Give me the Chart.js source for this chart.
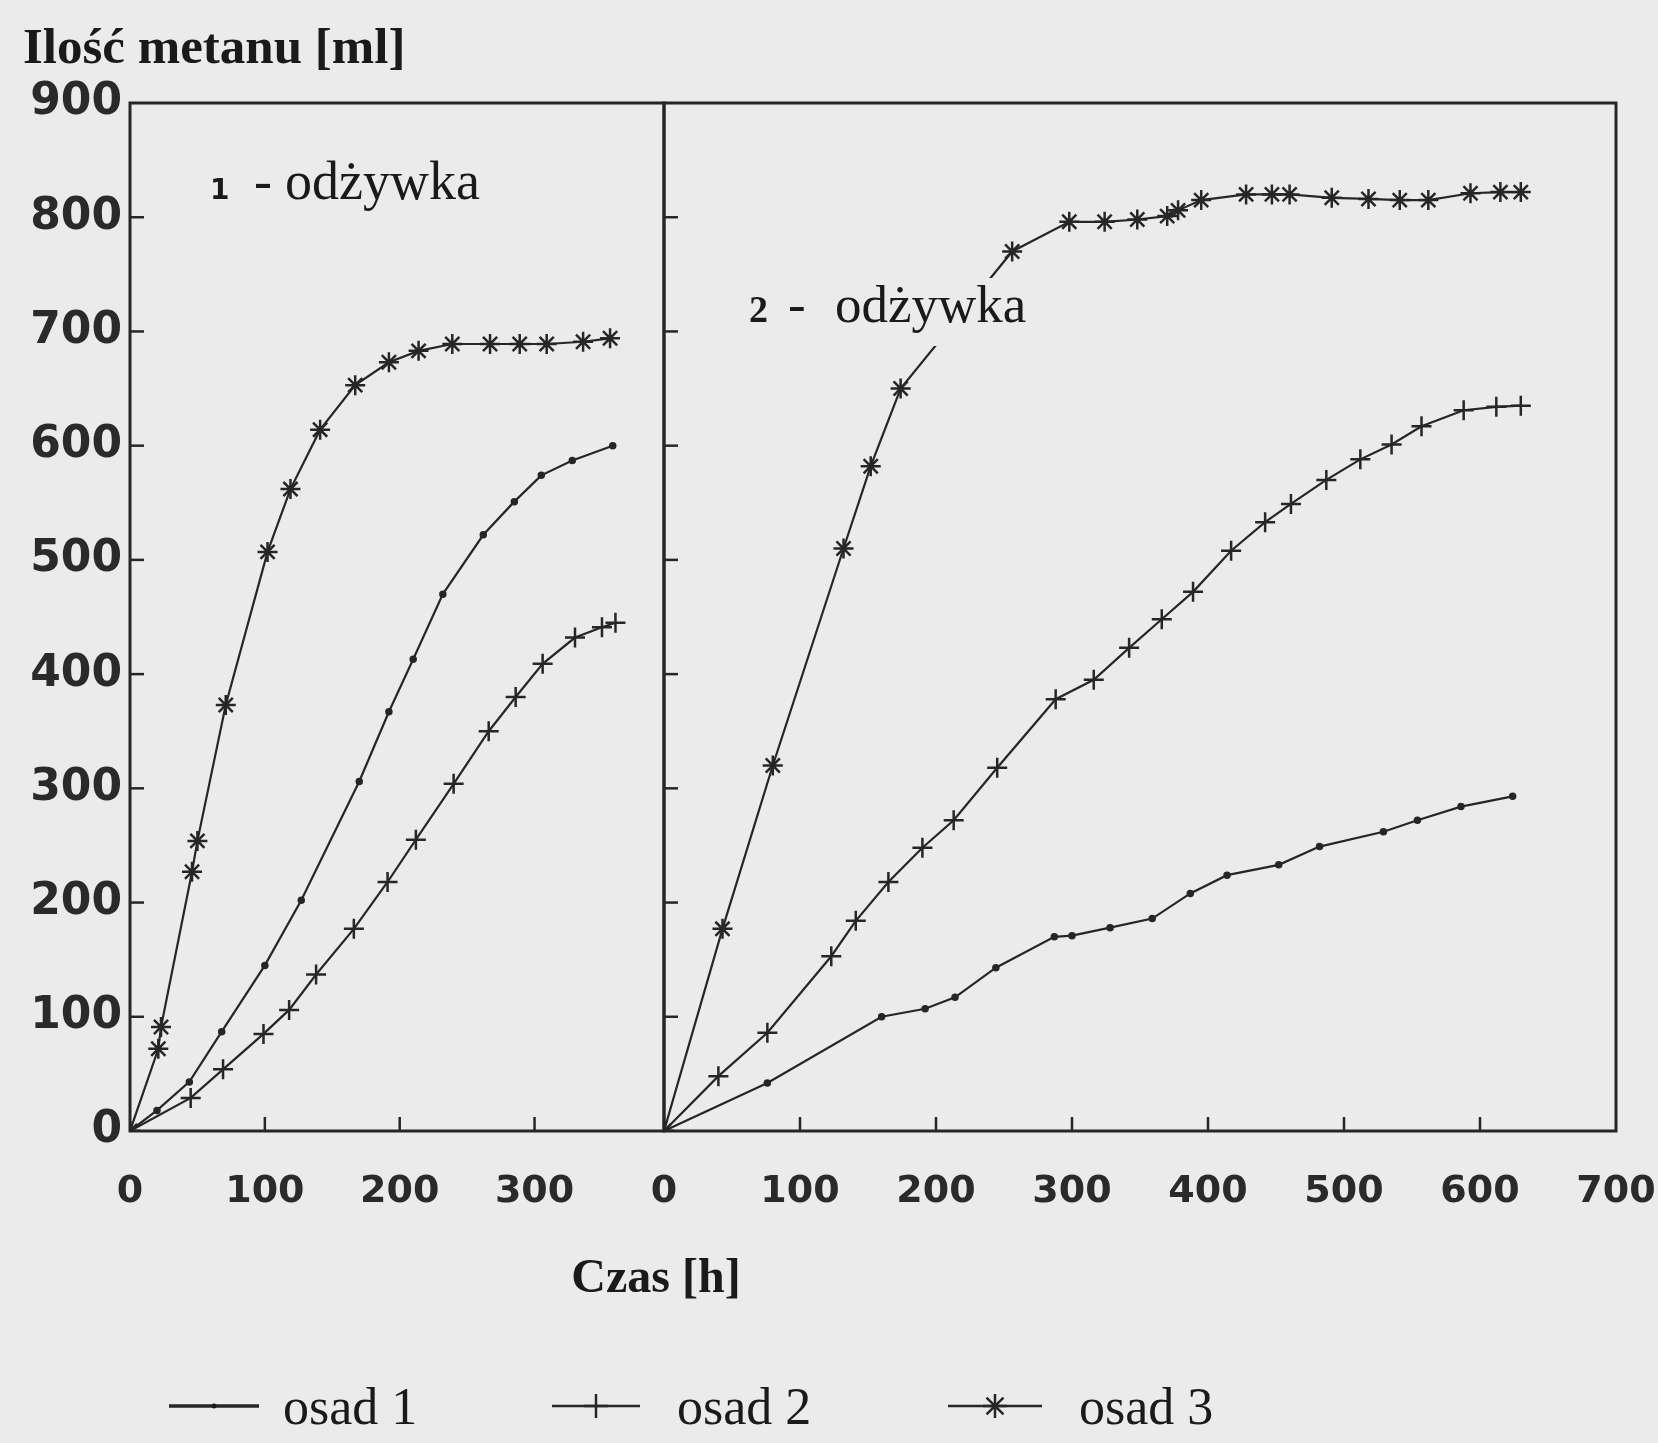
<!DOCTYPE html>
<html lang="pl">
<head>
<meta charset="utf-8">
<title>Ilość metanu</title>
<script src="https://cdn.jsdelivr.net/npm/chart.js@4.4.0/dist/chart.umd.min.js"></script>
<style>
  html, body { margin: 0; padding: 0; background: #ebebeb; }
  #wykres { position: relative; width: 1658px; height: 1443px; }
  #wykres canvas { position: absolute; left: 0; top: 0; }
</style>
</head>
<body>
<div id="wykres">
  <canvas id="panel1" width="1658" height="1443"></canvas>
  <canvas id="panel2" width="1658" height="1443"></canvas>
</div>
<script>
// dane: czas [h] i ilość metanu [ml]

// 1 - odżywka
const czas1Osad1 = [0, 20, 44, 68, 100, 127, 170, 192, 210, 232, 262, 285, 305, 328, 358];
const metan1Osad1 = [0, 18, 43, 87, 145, 202, 306, 367, 413, 470, 522, 551, 574, 587, 600];
const czas1Osad2 = [0, 45, 69, 99, 118, 138, 166, 191, 212, 240, 266, 286, 306, 330, 350, 360];
const metan1Osad2 = [0, 29, 54, 85, 106, 137, 177, 218, 255, 304, 350, 380, 409, 432, 441, 445];
const czas1Osad3 = [0, 21, 23, 46, 50, 71, 102, 119, 141, 167, 192, 214, 239, 267, 289, 309, 336, 356];
const metan1Osad3 = [0, 72, 91, 227, 254, 373, 507, 562, 614, 653, 673, 683, 689, 689, 689, 689, 691, 694];

// 2 - odżywka
const czas2Osad1 = [0, 76, 160, 192, 214, 244, 287, 300, 328, 359, 387, 414, 452, 482, 529, 554, 586, 624];
const metan2Osad1 = [0, 42, 100, 107, 117, 143, 170, 171, 178, 186, 208, 224, 233, 249, 262, 272, 284, 293];
const czas2Osad2 = [0, 40, 76, 123, 141, 165, 190, 213, 245, 288, 316, 342, 366, 389, 417, 442, 461, 487, 512, 535, 557, 588, 612, 630];
const metan2Osad2 = [0, 48, 86, 153, 184, 218, 248, 272, 318, 378, 395, 423, 448, 472, 508, 533, 549, 570, 588, 601, 617, 631, 634, 635];
const czas2Osad3 = [0, 43, 80, 132, 152, 174, 256, 298, 324, 348, 370, 378, 395, 428, 447, 460, 491, 518, 541, 562, 593, 615, 630];
const metan2Osad3 = [0, 177, 320, 510, 582, 650, 770, 796, 796, 798, 801, 806, 815, 820, 820, 820, 817, 816, 815, 815, 821, 822, 822];

const nazwySerii = ['osad 1', 'osad 2', 'osad 3'];
const znacznikiSerii = ['circle', 'cross', 'star'];
const etykietyY = [0, 100, 200, 300, 400, 500, 600, 700, 800, 900];
const etykietyX1 = [0, 100, 200, 300];
const etykietyX2 = [0, 100, 200, 300, 400, 500, 600, 700];
const tytulOsiY = 'Ilość metanu [ml]';
const tytulOsiX = 'Czas [h]';

const KOLOR = '#262626';

function seria(czas, metan, styl) {
  return {
    data: czas.map((x, i) => ({ x, y: metan[i] })),
    showLine: true,
    borderColor: KOLOR,
    borderWidth: 2.2,
    pointStyle: styl,
    pointRadius: styl === 'circle' ? 2.5 : 10,
    pointBorderWidth: 2.5,
    pointBorderColor: KOLOR,
    pointBackgroundColor: KOLOR,
    tension: 0
  };
}

function rysujZnacznik(ctx, styl, x, y, r) {
  ctx.beginPath();
  if (styl === 'circle') {
    ctx.arc(x, y, 2.5, 0, Math.PI * 2);
    ctx.fill();
    return;
  }
  ctx.moveTo(x - r, y); ctx.lineTo(x + r, y);
  ctx.moveTo(x, y - r); ctx.lineTo(x, y + r);
  if (styl === 'star') {
    const d = r * Math.SQRT1_2;
    ctx.moveTo(x - d, y - d); ctx.lineTo(x + d, y + d);
    ctx.moveTo(x - d, y + d); ctx.lineTo(x + d, y - d);
  }
  ctx.stroke();
}

// ramka panelu i krótkie kreski podziałki do środka
const ramka = {
  id: 'ramka',
  beforeDatasetsDraw(chart) {
    const { ctx, chartArea: a, scales } = chart;
    ctx.save();
    ctx.strokeStyle = KOLOR;
    ctx.lineWidth = 3;
    ctx.strokeRect(a.left, a.top, a.right - a.left, a.bottom - a.top);
    ctx.lineWidth = 2.5;
    scales.x.ticks.forEach(t => {
      if (t.value === 0 || t.value === scales.x.max) return;
      const x = scales.x.getPixelForValue(t.value);
      ctx.beginPath(); ctx.moveTo(x, a.bottom); ctx.lineTo(x, a.bottom - 14); ctx.stroke();
    });
    scales.y.ticks.forEach(t => {
      if (t.value === 0 || t.value === scales.y.max) return;
      const y = scales.y.getPixelForValue(t.value);
      ctx.beginPath(); ctx.moveTo(a.left, y); ctx.lineTo(a.left + 14, y); ctx.stroke();
    });
    ctx.restore();
  }
};

// tytuły osi, legenda i opis panelu 1
const opisy1 = {
  id: 'opisy1',
  afterDraw(chart) {
    const ctx = chart.ctx;
    ctx.save();
    ctx.fillStyle = '#1a1a1a';
    ctx.textBaseline = 'alphabetic';
    ctx.font = 'bold 51px "Liberation Serif"';
    ctx.fillText(tytulOsiY, 23, 63);
    ctx.textAlign = 'center';
    ctx.font = 'bold 48px "Liberation Serif"';
    ctx.fillText(tytulOsiX, 656, 1292);

    ctx.textAlign = 'left';
    ctx.font = 'bold 28px "DejaVu Sans"';
    ctx.fillText('1', 210, 199);
    ctx.font = '54px "Liberation Serif"';
    ctx.fillText('-', 254, 199);
    ctx.fillText('odżywka', 285, 199);

    // legenda
    const pozycje = [[169, 259, 283], [552, 640, 677], [948, 1042, 1079]];
    ctx.strokeStyle = KOLOR;
    ctx.font = '52px "Liberation Serif"';
    nazwySerii.forEach((nazwa, i) => {
      const [x1, x2, xt] = pozycje[i];
      const y = 1406;
      ctx.lineWidth = i === 0 ? 3.5 : 2.5;
      ctx.beginPath(); ctx.moveTo(x1, y); ctx.lineTo(x2, y); ctx.stroke();
      rysujZnacznik(ctx, znacznikiSerii[i], (x1 + x2) / 2, y, 12);
      ctx.fillText(nazwa, xt, 1424);
    });
    ctx.restore();
  }
};

const opisy2 = {
  id: 'opisy2',
  afterDatasetsDraw(chart) {
    const ctx = chart.ctx;
    ctx.save();
    ctx.fillStyle = '#ebebeb';
    ctx.fillRect(738, 278, 300, 68);
    ctx.fillStyle = '#1a1a1a';
    ctx.font = 'bold 38px "Liberation Serif"';
    ctx.fillText('2', 749, 322);
    ctx.font = '53px "Liberation Serif"';
    ctx.fillText('-', 788, 322);
    ctx.fillText('odżywka', 835, 322);
    ctx.restore();
  }
};

function opcje(maxX, etykietyX, szerOsiY, prawyMargines, pokazY) {
  return {
    responsive: false,
    animation: false,
    layout: { padding: { left: 0, right: prawyMargines, top: 103, bottom: 0 } },
    plugins: {
      legend: { display: false },
      tooltip: { enabled: false }
    },
    scales: {
      x: {
        type: 'linear', min: 0, max: maxX,
        grid: { display: false, drawTicks: false },
        border: { display: false },
        afterBuildTicks: s => { s.ticks = etykietyX.map(v => ({ value: v })); },
        ticks: {
          padding: 38, color: '#2a2a2a', maxRotation: 0, autoSkip: false,
          font: { family: 'DejaVu Sans', weight: 'bold', size: 38 }
        },
        afterFit: s => { s.height = 312; s.paddingLeft = 0; s.paddingRight = 0; }
      },
      y: {
        min: 0, max: 900,
        grid: { display: false, drawTicks: false },
        border: { display: false },
        afterBuildTicks: s => { s.ticks = etykietyY.map(v => ({ value: v })); },
        ticks: {
          display: pokazY, padding: 8, color: '#2a2a2a', autoSkip: false,
          font: { family: 'DejaVu Sans', weight: 'bold', size: 44 }
        },
        afterFit: s => { s.width = szerOsiY; s.paddingTop = 0; s.paddingBottom = 0; }
      }
    }
  };
}

new Chart(document.getElementById('panel1'), {
  type: 'scatter',
  data: {
    datasets: [
      seria(czas1Osad1, metan1Osad1, 'circle'),
      seria(czas1Osad2, metan1Osad2, 'cross'),
      seria(czas1Osad3, metan1Osad3, 'star')
    ]
  },
  options: opcje(396, etykietyX1, 130, 1658 - 664, true),
  plugins: [ramka, opisy1]
});

new Chart(document.getElementById('panel2'), {
  type: 'scatter',
  data: {
    datasets: [
      seria(czas2Osad1, metan2Osad1, 'circle'),
      seria(czas2Osad2, metan2Osad2, 'cross'),
      seria(czas2Osad3, metan2Osad3, 'star')
    ]
  },
  options: opcje(700, etykietyX2, 664, 1658 - 1616, false),
  plugins: [ramka, opisy2]
});
</script>
</body>
</html>
